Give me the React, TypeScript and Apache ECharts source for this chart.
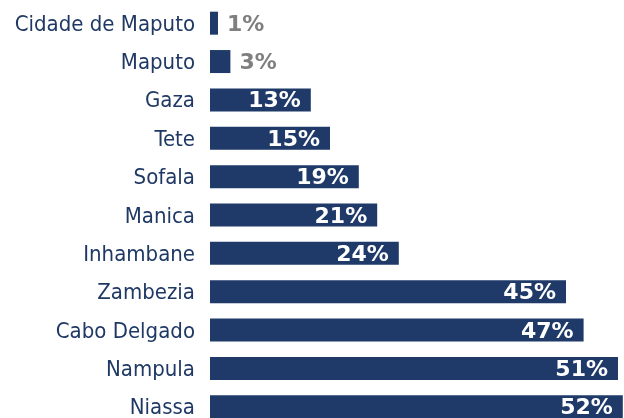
import React, { useEffect, useRef } from "react";
import * as echarts from "echarts";

const categories = [
  "Cidade de Maputo",
  "Maputo",
  "Gaza",
  "Tete",
  "Sofala",
  "Manica",
  "Inhambane",
  "Zambezia",
  "Cabo Delgado",
  "Nampula",
  "Niassa",
];
const values = [1.0, 2.55, 12.6, 15.0, 18.6, 20.9, 23.6, 44.5, 46.7, 51.0, 51.6];
const outsideThreshold = 5;

export default function App() {
  const ref = useRef<HTMLDivElement>(null);
  useEffect(() => {
    document.body.style.margin = "0";
    document.body.style.overflow = "hidden";
    const chart = echarts.init(ref.current!, null, { renderer: "svg" });
    const font = "'DejaVu Sans Condensed', 'DejaVu Sans', sans-serif";
    const boldFont = "'DejaVu Sans', sans-serif";
    chart.setOption({
      animation: false,
      grid: { left: 210, right: 0, top: 4, bottom: 0, containLabel: false },
      xAxis: {
        type: "value",
        min: 0,
        max: 51.75,
        show: false,
      },
      yAxis: {
        type: "category",
        data: categories,
        inverse: true,
        axisLine: { show: false },
        axisTick: { show: false },
        splitLine: { show: false },
        axisLabel: {
          margin: 15,
          color: "#1F3864",
          fontSize: 22,
          fontFamily: font,
        },
      },
      series: [
        {
          type: "bar",
          barWidth: 23,
          itemStyle: { color: "#1F3A68" },
          data: values.map((v) => ({
            value: v,
            label:
              v < outsideThreshold
                ? { position: "right", distance: 9, color: "#7F7F7F" }
                : { position: "insideRight", distance: 10, color: "#FFFFFF" },
          })),
          label: {
            show: true,
            fontSize: 22,
            fontWeight: "bold",
            fontFamily: boldFont,
            formatter: (p: any) => Math.round(p.value) + "%",
          },
        },
      ],
    });
    return () => chart.dispose();
  }, []);
  return (
    <div
      ref={ref}
      style={{ position: "fixed", left: 0, top: 0, width: 624, height: 426 }}
    />
  );
}
